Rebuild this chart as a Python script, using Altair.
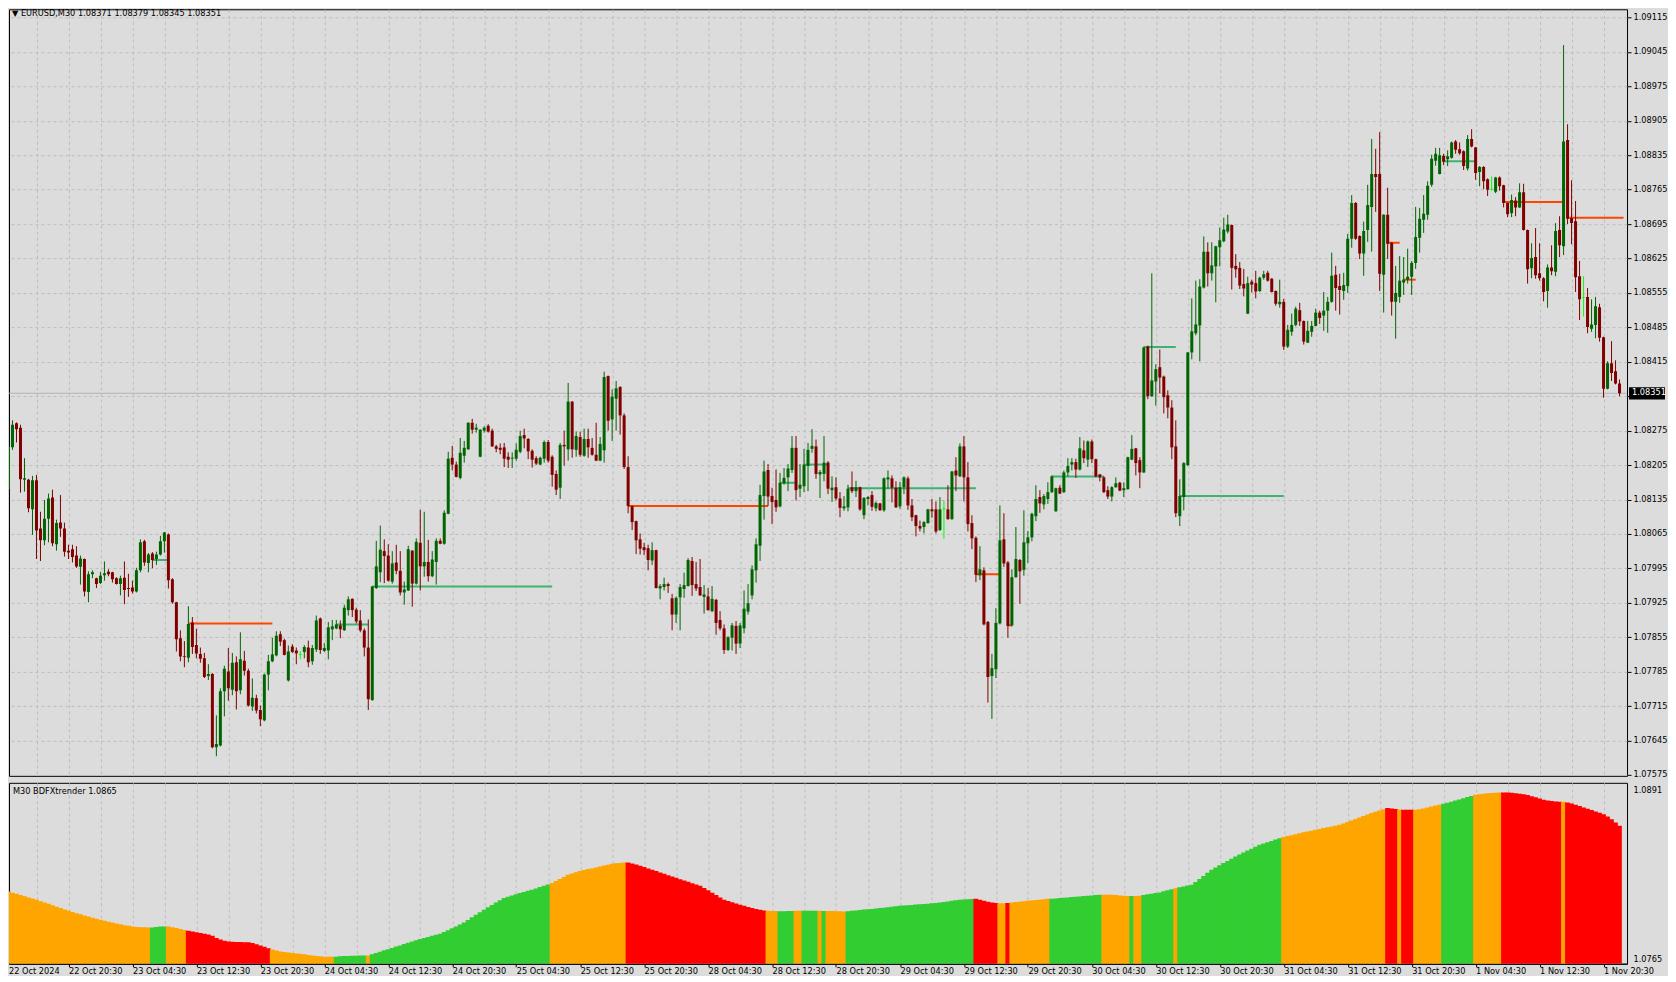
import json
import altair as alt
import pandas as pd

# ---------------- data ----------------
symbol = "EURUSD,M30"
timeframe = "M30"
indicator_name = "BDFXtrender"

opens = [
    1.08271, 1.08156, 1.08241, 1.08290, 1.08281, 1.08175, 1.08175, 1.08115, 1.08174, 1.08076,
    1.08052, 1.08096, 1.08139, 1.08044, 1.08088, 1.08076, 1.08031, 1.08034, 1.08021, 1.07998,
    1.08014, 1.07947, 1.07983, 1.07975, 1.07965, 1.07981, 1.07988, 1.07987, 1.07975, 1.07963,
    1.07976, 1.07954, 1.07956, 1.07948, 1.07991, 1.08050, 1.08006, 1.08025, 1.08014, 1.08023,
    1.08050, 1.08064, 1.07973, 1.07926, 1.07853, 1.07817, 1.07813, 1.07885, 1.07839, 1.07821,
    1.07812, 1.07776, 1.07780, 1.07631, 1.07635, 1.07745, 1.07785, 1.07748, 1.07804, 1.07747,
    1.07807, 1.07787, 1.07714, 1.07731, 1.07707, 1.07686, 1.07779, 1.07806, 1.07818, 1.07861,
    1.07849, 1.07767, 1.07836, 1.07828, 1.07819, 1.07825, 1.07834, 1.07806, 1.07830, 1.07893,
    1.07827, 1.07828, 1.07871, 1.07873, 1.07879, 1.07869, 1.07910, 1.07933, 1.07911, 1.07889,
    1.07869, 1.07834, 1.07727, 1.07955, 1.07987, 1.08030, 1.08021, 1.07968, 1.08007, 1.07990,
    1.07946, 1.07950, 1.08031, 1.07964, 1.08047, 1.07999, 1.08008, 1.07979, 1.08008, 1.08051,
    1.08045, 1.08106, 1.08220, 1.08206, 1.08179, 1.08224, 1.08237, 1.08291, 1.08277, 1.08222,
    1.08275, 1.08285, 1.08275, 1.08243, 1.08240, 1.08241, 1.08222, 1.08218, 1.08218, 1.08232,
    1.08266, 1.08258, 1.08234, 1.08219, 1.08206, 1.08218, 1.08252, 1.08222, 1.08187, 1.08159,
    1.08246, 1.08237, 1.08334, 1.08236, 1.08262, 1.08224, 1.08258, 1.08240, 1.08226, 1.08214,
    1.08235, 1.08386, 1.08298, 1.08340, 1.08364, 1.08306, 1.08201, 1.08121, 1.08091, 1.08054,
    1.08038, 1.08036, 1.08011, 1.08032, 1.07954, 1.07957, 1.07963, 1.07934, 1.07901, 1.07936,
    1.07953, 1.07959, 1.08010, 1.07963, 1.07957, 1.07937, 1.07938, 1.07908, 1.07931, 1.07890,
    1.07873, 1.07829, 1.07854, 1.07878, 1.07842, 1.07873, 1.07907, 1.07940, 1.07991, 1.08041,
    1.08142, 1.08195, 1.08142, 1.08134, 1.08121, 1.08168, 1.08180, 1.08195, 1.08240, 1.08157,
    1.08162, 1.08203, 1.08238, 1.08243, 1.08186, 1.08187, 1.08210, 1.08154, 1.08160, 1.08137,
    1.08117, 1.08119, 1.08160, 1.08152, 1.08160, 1.08103, 1.08136, 1.08144, 1.08117, 1.08127,
    1.08113, 1.08176, 1.08178, 1.08159, 1.08121, 1.08160, 1.08178, 1.08123, 1.08103, 1.08081,
    1.08079, 1.08087, 1.08115, 1.08115, 1.08073, 1.08115, 1.08115, 1.08095, 1.08194, 1.08182,
    1.08243, 1.08180, 1.08087, 1.08057, 1.07981, 1.07991, 1.07886, 1.07776, 1.07790, 1.07883,
    1.08054, 1.08007, 1.07879, 1.07977, 1.08012, 1.07992, 1.08046, 1.08058, 1.08101, 1.08140,
    1.08125, 1.08136, 1.08150, 1.08111, 1.08159, 1.08150, 1.08190, 1.08206, 1.08211, 1.08196,
    1.08235, 1.08216, 1.08253, 1.08217, 1.08186, 1.08180, 1.08154, 1.08141, 1.08160, 1.08169,
    1.08154, 1.08156, 1.08216, 1.08239, 1.08215, 1.08190, 1.08446, 1.08345, 1.08375, 1.08404,
    1.08385, 1.08347, 1.08322, 1.08243, 1.08101, 1.08140, 1.08205, 1.08434, 1.08473, 1.08489,
    1.08566, 1.08639, 1.08595, 1.08609, 1.08648, 1.08660, 1.08680, 1.08693, 1.08610, 1.08606,
    1.08573, 1.08513, 1.08578, 1.08575, 1.08559, 1.08586, 1.08596, 1.08584, 1.08559, 1.08532,
    1.08537, 1.08446, 1.08476, 1.08490, 1.08520, 1.08498, 1.08454, 1.08476, 1.08488, 1.08515,
    1.08509, 1.08519, 1.08537, 1.08592, 1.08569, 1.08559, 1.08569, 1.08665, 1.08738, 1.08671,
    1.08635, 1.08683, 1.08730, 1.08797, 1.08797, 1.08592, 1.08714, 1.08657, 1.08537, 1.08547,
    1.08576, 1.08582, 1.08588, 1.08616, 1.08667, 1.08704, 1.08714, 1.08775, 1.08824, 1.08797,
    1.08834, 1.08827, 1.08830, 1.08863, 1.08847, 1.08843, 1.08808, 1.08868, 1.08851, 1.08801,
    1.08811, 1.08786, 1.08765, 1.08761, 1.08790, 1.08774, 1.08738, 1.08717, 1.08743, 1.08729,
    1.08760, 1.08683, 1.08605, 1.08628, 1.08595, 1.08585, 1.08559, 1.08607, 1.08598, 1.08683,
    1.08650, 1.08866, 1.08707, 1.08701, 1.08589, 1.08545, 1.08547, 1.08482, 1.08490, 1.08526,
    1.08465, 1.08360, 1.08412, 1.08396, 1.08371,
]

highs = [
    1.08280, 1.08273, 1.08296, 1.08292, 1.08287, 1.08219, 1.08177, 1.08183, 1.08185, 1.08110,
    1.08134, 1.08147, 1.08155, 1.08094, 1.08144, 1.08088, 1.08043, 1.08043, 1.08040, 1.08021,
    1.08015, 1.07989, 1.07991, 1.07976, 1.07988, 1.08009, 1.07993, 1.07988, 1.07977, 1.07980,
    1.08009, 1.07984, 1.07970, 1.07996, 1.08054, 1.08053, 1.08026, 1.08028, 1.08029, 1.08061,
    1.08069, 1.08066, 1.07975, 1.07927, 1.07869, 1.07847, 1.07918, 1.07896, 1.07872, 1.07834,
    1.07823, 1.07800, 1.07782, 1.07696, 1.07751, 1.07797, 1.07833, 1.07823, 1.07816, 1.07865,
    1.07827, 1.07791, 1.07771, 1.07738, 1.07716, 1.07781, 1.07819, 1.07854, 1.07867, 1.07867,
    1.07852, 1.07838, 1.07841, 1.07834, 1.07827, 1.07839, 1.07848, 1.07839, 1.07899, 1.07895,
    1.07843, 1.07886, 1.07890, 1.07890, 1.07889, 1.07921, 1.07938, 1.07934, 1.07915, 1.07910,
    1.07873, 1.07891, 1.07959, 1.08051, 1.08082, 1.08054, 1.08044, 1.08030, 1.08043, 1.08030,
    1.07968, 1.08041, 1.08032, 1.08056, 1.08114, 1.08110, 1.08053, 1.08030, 1.08056, 1.08056,
    1.08113, 1.08232, 1.08244, 1.08212, 1.08260, 1.08254, 1.08292, 1.08299, 1.08289, 1.08278,
    1.08284, 1.08288, 1.08279, 1.08246, 1.08249, 1.08250, 1.08231, 1.08231, 1.08249, 1.08275,
    1.08279, 1.08260, 1.08237, 1.08223, 1.08222, 1.08255, 1.08256, 1.08225, 1.08194, 1.08250,
    1.08275, 1.08372, 1.08335, 1.08273, 1.08273, 1.08279, 1.08279, 1.08260, 1.08291, 1.08262,
    1.08395, 1.08387, 1.08359, 1.08376, 1.08365, 1.08310, 1.08223, 1.08123, 1.08092, 1.08066,
    1.08047, 1.08043, 1.08048, 1.08033, 1.07963, 1.07976, 1.07966, 1.07943, 1.07938, 1.07963,
    1.07986, 1.08016, 1.08018, 1.08008, 1.08014, 1.07961, 1.07955, 1.07959, 1.07933, 1.07908,
    1.07881, 1.07857, 1.07884, 1.07888, 1.07884, 1.07950, 1.07963, 1.08001, 1.08056, 1.08165,
    1.08214, 1.08207, 1.08159, 1.08196, 1.08189, 1.08199, 1.08207, 1.08264, 1.08264, 1.08207,
    1.08238, 1.08250, 1.08278, 1.08257, 1.08195, 1.08264, 1.08213, 1.08182, 1.08180, 1.08150,
    1.08142, 1.08165, 1.08192, 1.08173, 1.08161, 1.08140, 1.08142, 1.08152, 1.08131, 1.08128,
    1.08180, 1.08194, 1.08184, 1.08172, 1.08171, 1.08182, 1.08182, 1.08136, 1.08104, 1.08092,
    1.08091, 1.08116, 1.08136, 1.08131, 1.08140, 1.08133, 1.08164, 1.08193, 1.08221, 1.08249,
    1.08264, 1.08211, 1.08103, 1.08060, 1.08040, 1.07997, 1.07888, 1.07821, 1.07914, 1.08123,
    1.08107, 1.08010, 1.07993, 1.08079, 1.08014, 1.08113, 1.08071, 1.08108, 1.08164, 1.08154,
    1.08146, 1.08170, 1.08184, 1.08159, 1.08164, 1.08194, 1.08219, 1.08219, 1.08218, 1.08262,
    1.08255, 1.08255, 1.08257, 1.08218, 1.08187, 1.08182, 1.08162, 1.08162, 1.08180, 1.08171,
    1.08170, 1.08222, 1.08266, 1.08240, 1.08221, 1.08446, 1.08448, 1.08595, 1.08410, 1.08440,
    1.08387, 1.08357, 1.08337, 1.08296, 1.08176, 1.08211, 1.08435, 1.08544, 1.08580, 1.08583,
    1.08670, 1.08658, 1.08658, 1.08651, 1.08688, 1.08708, 1.08714, 1.08694, 1.08634, 1.08618,
    1.08604, 1.08588, 1.08582, 1.08600, 1.08588, 1.08600, 1.08600, 1.08585, 1.08560, 1.08582,
    1.08543, 1.08490, 1.08513, 1.08527, 1.08535, 1.08499, 1.08498, 1.08498, 1.08523, 1.08519,
    1.08557, 1.08547, 1.08637, 1.08610, 1.08594, 1.08596, 1.08675, 1.08754, 1.08740, 1.08672,
    1.08700, 1.08775, 1.08868, 1.08848, 1.08882, 1.08715, 1.08769, 1.08658, 1.08610, 1.08630,
    1.08628, 1.08645, 1.08620, 1.08730, 1.08728, 1.08754, 1.08782, 1.08836, 1.08850, 1.08850,
    1.08838, 1.08845, 1.08863, 1.08866, 1.08861, 1.08845, 1.08876, 1.08888, 1.08852, 1.08813,
    1.08813, 1.08788, 1.08792, 1.08791, 1.08792, 1.08775, 1.08739, 1.08755, 1.08750, 1.08778,
    1.08777, 1.08684, 1.08656, 1.08687, 1.08656, 1.08587, 1.08613, 1.08652, 1.08697, 1.08711,
    1.09059, 1.08898, 1.08784, 1.08742, 1.08620, 1.08589, 1.08565, 1.08542, 1.08547, 1.08533,
    1.08466, 1.08416, 1.08457, 1.08418, 1.08379,
]

lows = [
    1.08145, 1.08145, 1.08236, 1.08251, 1.08149, 1.08151, 1.08109, 1.08063, 1.08014, 1.08010,
    1.08042, 1.08048, 1.08040, 1.08031, 1.08059, 1.08019, 1.08014, 1.08007, 1.07996, 1.07962,
    1.07938, 1.07926, 1.07975, 1.07955, 1.07963, 1.07970, 1.07979, 1.07966, 1.07962, 1.07940,
    1.07922, 1.07937, 1.07944, 1.07946, 1.07987, 1.08000, 1.07987, 1.07995, 1.08002, 1.08021,
    1.08027, 1.07954, 1.07923, 1.07826, 1.07806, 1.07794, 1.07804, 1.07821, 1.07812, 1.07803,
    1.07772, 1.07768, 1.07629, 1.07613, 1.07633, 1.07694, 1.07726, 1.07737, 1.07708, 1.07739,
    1.07777, 1.07714, 1.07705, 1.07700, 1.07674, 1.07684, 1.07747, 1.07804, 1.07816, 1.07837,
    1.07818, 1.07765, 1.07823, 1.07800, 1.07810, 1.07812, 1.07794, 1.07799, 1.07825, 1.07821,
    1.07825, 1.07810, 1.07849, 1.07871, 1.07853, 1.07868, 1.07899, 1.07896, 1.07883, 1.07865,
    1.07816, 1.07707, 1.07726, 1.07953, 1.07967, 1.07965, 1.07968, 1.07964, 1.07983, 1.07940,
    1.07921, 1.07949, 1.07917, 1.07962, 1.07950, 1.07978, 1.07968, 1.07977, 1.07962, 1.08044,
    1.08043, 1.08105, 1.08194, 1.08180, 1.08176, 1.08210, 1.08236, 1.08269, 1.08271, 1.08221,
    1.08271, 1.08271, 1.08242, 1.08231, 1.08227, 1.08201, 1.08199, 1.08199, 1.08214, 1.08229,
    1.08239, 1.08217, 1.08200, 1.08205, 1.08205, 1.08210, 1.08210, 1.08161, 1.08144, 1.08136,
    1.08204, 1.08214, 1.08220, 1.08222, 1.08222, 1.08222, 1.08220, 1.08224, 1.08213, 1.08213,
    1.08210, 1.08275, 1.08254, 1.08275, 1.08267, 1.08197, 1.08107, 1.08073, 1.08024, 1.08023,
    1.08022, 1.07991, 1.08002, 1.07954, 1.07932, 1.07950, 1.07945, 1.07869, 1.07884, 1.07869,
    1.07935, 1.07958, 1.07939, 1.07949, 1.07939, 1.07903, 1.07909, 1.07906, 1.07860, 1.07869,
    1.07821, 1.07827, 1.07828, 1.07821, 1.07833, 1.07863, 1.07901, 1.07932, 1.07966, 1.08010,
    1.08094, 1.08122, 1.08085, 1.08110, 1.08119, 1.08165, 1.08152, 1.08189, 1.08133, 1.08140,
    1.08150, 1.08152, 1.08230, 1.08177, 1.08138, 1.08172, 1.08146, 1.08130, 1.08133, 1.08099,
    1.08112, 1.08111, 1.08148, 1.08140, 1.08112, 1.08095, 1.08123, 1.08112, 1.08111, 1.08112,
    1.08110, 1.08157, 1.08129, 1.08118, 1.08116, 1.08146, 1.08114, 1.08091, 1.08060, 1.08070,
    1.08066, 1.08086, 1.08098, 1.08066, 1.08071, 1.08055, 1.08094, 1.08094, 1.08152, 1.08181,
    1.08131, 1.08070, 1.08034, 1.07967, 1.07971, 1.07879, 1.07722, 1.07689, 1.07772, 1.07881,
    1.07998, 1.07854, 1.07877, 1.07976, 1.07923, 1.07980, 1.08006, 1.08050, 1.08091, 1.08108,
    1.08115, 1.08126, 1.08148, 1.08110, 1.08146, 1.08148, 1.08182, 1.08194, 1.08179, 1.08194,
    1.08209, 1.08201, 1.08209, 1.08180, 1.08172, 1.08148, 1.08136, 1.08131, 1.08159, 1.08152,
    1.08140, 1.08155, 1.08215, 1.08184, 1.08158, 1.08189, 1.08339, 1.08344, 1.08326, 1.08351,
    1.08310, 1.08300, 1.08217, 1.08099, 1.08081, 1.08113, 1.08203, 1.08420, 1.08469, 1.08416,
    1.08564, 1.08568, 1.08580, 1.08536, 1.08609, 1.08658, 1.08676, 1.08562, 1.08586, 1.08563,
    1.08548, 1.08512, 1.08556, 1.08544, 1.08557, 1.08582, 1.08578, 1.08556, 1.08529, 1.08525,
    1.08439, 1.08443, 1.08468, 1.08487, 1.08488, 1.08450, 1.08453, 1.08466, 1.08487, 1.08492,
    1.08478, 1.08474, 1.08535, 1.08519, 1.08511, 1.08541, 1.08555, 1.08647, 1.08663, 1.08624,
    1.08590, 1.08659, 1.08639, 1.08720, 1.08559, 1.08515, 1.08624, 1.08509, 1.08462, 1.08535,
    1.08551, 1.08574, 1.08551, 1.08604, 1.08637, 1.08677, 1.08704, 1.08771, 1.08814, 1.08796,
    1.08815, 1.08813, 1.08828, 1.08838, 1.08836, 1.08805, 1.08804, 1.08851, 1.08785, 1.08772,
    1.08766, 1.08752, 1.08763, 1.08758, 1.08763, 1.08729, 1.08709, 1.08709, 1.08711, 1.08728,
    1.08682, 1.08574, 1.08585, 1.08584, 1.08580, 1.08538, 1.08525, 1.08591, 1.08589, 1.08628,
    1.08632, 1.08695, 1.08654, 1.08557, 1.08500, 1.08507, 1.08473, 1.08476, 1.08463, 1.08456,
    1.08342, 1.08359, 1.08376, 1.08369, 1.08345,
]

closes = [
    1.08158, 1.08243, 1.08287, 1.08278, 1.08176, 1.08178, 1.08117, 1.08174, 1.08072, 1.08052,
    1.08096, 1.08137, 1.08046, 1.08087, 1.08076, 1.08029, 1.08027, 1.08018, 1.07999, 1.08015,
    1.07948, 1.07983, 1.07987, 1.07963, 1.07980, 1.07985, 1.07983, 1.07973, 1.07963, 1.07975,
    1.07951, 1.07953, 1.07948, 1.07991, 1.08048, 1.08007, 1.08023, 1.08012, 1.08023, 1.08050,
    1.08068, 1.07971, 1.07926, 1.07851, 1.07816, 1.07815, 1.07882, 1.07835, 1.07822, 1.07811,
    1.07774, 1.07780, 1.07631, 1.07638, 1.07745, 1.07791, 1.07751, 1.07803, 1.07745, 1.07810,
    1.07787, 1.07716, 1.07732, 1.07706, 1.07688, 1.07779, 1.07806, 1.07820, 1.07858, 1.07846,
    1.07819, 1.07826, 1.07825, 1.07822, 1.07819, 1.07835, 1.07804, 1.07833, 1.07889, 1.07829,
    1.07833, 1.07875, 1.07877, 1.07881, 1.07871, 1.07915, 1.07932, 1.07910, 1.07887, 1.07869,
    1.07834, 1.07729, 1.07958, 1.07999, 1.08033, 1.08020, 1.07970, 1.08005, 1.07990, 1.07946,
    1.07952, 1.08034, 1.07964, 1.08049, 1.07999, 1.08008, 1.07979, 1.08013, 1.08051, 1.08045,
    1.08108, 1.08218, 1.08206, 1.08181, 1.08230, 1.08240, 1.08291, 1.08277, 1.08281, 1.08277,
    1.08281, 1.08273, 1.08243, 1.08238, 1.08236, 1.08218, 1.08216, 1.08220, 1.08236, 1.08264,
    1.08259, 1.08233, 1.08216, 1.08208, 1.08220, 1.08252, 1.08214, 1.08185, 1.08155, 1.08246,
    1.08243, 1.08334, 1.08237, 1.08264, 1.08226, 1.08258, 1.08241, 1.08226, 1.08214, 1.08248,
    1.08384, 1.08295, 1.08344, 1.08361, 1.08306, 1.08201, 1.08122, 1.08089, 1.08052, 1.08035,
    1.08032, 1.08012, 1.08032, 1.07955, 1.07959, 1.07963, 1.07959, 1.07901, 1.07935, 1.07957,
    1.07961, 1.08012, 1.07961, 1.07954, 1.07940, 1.07942, 1.07910, 1.07933, 1.07884, 1.07873,
    1.07829, 1.07855, 1.07879, 1.07842, 1.07879, 1.07913, 1.07924, 1.07993, 1.08044, 1.08144,
    1.08192, 1.08141, 1.08130, 1.08119, 1.08169, 1.08179, 1.08198, 1.08240, 1.08154, 1.08165,
    1.08206, 1.08236, 1.08244, 1.08187, 1.08191, 1.08210, 1.08157, 1.08159, 1.08137, 1.08118,
    1.08121, 1.08157, 1.08152, 1.08160, 1.08115, 1.08138, 1.08140, 1.08120, 1.08128, 1.08113,
    1.08178, 1.08180, 1.08159, 1.08119, 1.08160, 1.08180, 1.08123, 1.08099, 1.08081, 1.08076,
    1.08089, 1.08115, 1.08111, 1.08070, 1.08115, 1.08115, 1.08095, 1.08192, 1.08184, 1.08243,
    1.08180, 1.08085, 1.08056, 1.07982, 1.07993, 1.07881, 1.07774, 1.07792, 1.07884, 1.08052,
    1.08005, 1.07878, 1.07977, 1.08014, 1.07989, 1.08048, 1.08058, 1.08106, 1.08136, 1.08127,
    1.08142, 1.08150, 1.08182, 1.08158, 1.08147, 1.08190, 1.08203, 1.08211, 1.08196, 1.08239,
    1.08219, 1.08253, 1.08217, 1.08182, 1.08180, 1.08150, 1.08141, 1.08160, 1.08168, 1.08153,
    1.08158, 1.08221, 1.08238, 1.08209, 1.08190, 1.08444, 1.08345, 1.08377, 1.08400, 1.08383,
    1.08343, 1.08322, 1.08241, 1.08107, 1.08142, 1.08209, 1.08434, 1.08477, 1.08491, 1.08568,
    1.08639, 1.08595, 1.08611, 1.08650, 1.08662, 1.08684, 1.08694, 1.08606, 1.08603, 1.08570,
    1.08564, 1.08575, 1.08572, 1.08558, 1.08586, 1.08593, 1.08580, 1.08557, 1.08533, 1.08537,
    1.08446, 1.08480, 1.08490, 1.08523, 1.08497, 1.08456, 1.08478, 1.08488, 1.08515, 1.08504,
    1.08519, 1.08537, 1.08590, 1.08565, 1.08561, 1.08571, 1.08665, 1.08738, 1.08665, 1.08635,
    1.08681, 1.08734, 1.08797, 1.08791, 1.08594, 1.08714, 1.08655, 1.08537, 1.08555, 1.08580,
    1.08582, 1.08588, 1.08616, 1.08669, 1.08706, 1.08716, 1.08773, 1.08828, 1.08838, 1.08835,
    1.08822, 1.08833, 1.08861, 1.08846, 1.08839, 1.08813, 1.08868, 1.08853, 1.08799, 1.08811,
    1.08782, 1.08765, 1.08765, 1.08790, 1.08772, 1.08738, 1.08715, 1.08744, 1.08729, 1.08760,
    1.08683, 1.08603, 1.08626, 1.08591, 1.08585, 1.08557, 1.08607, 1.08599, 1.08681, 1.08652,
    1.08863, 1.08706, 1.08697, 1.08587, 1.08542, 1.08545, 1.08486, 1.08491, 1.08528, 1.08464,
    1.08360, 1.08412, 1.08392, 1.08371, 1.08351,
]

trend_values = [
    1.08164, 1.08158, 1.08150, 1.08142, 1.08133, 1.08124, 1.08115, 1.08106, 1.08097, 1.08087,
    1.08077, 1.08067, 1.08057, 1.08046, 1.08036, 1.08025, 1.08015, 1.08006, 1.07997, 1.07989,
    1.07980, 1.07972, 1.07963, 1.07955, 1.07948, 1.07941, 1.07934, 1.07927, 1.07920, 1.07914,
    1.07908, 1.07903, 1.07898, 1.07895, 1.07893, 1.07892, 1.07891, 1.07891, 1.07895, 1.07898,
    1.07898, 1.07898, 1.07893, 1.07886, 1.07879, 1.07872, 1.07866, 1.07860, 1.07854, 1.07849,
    1.07844, 1.07839, 1.07828, 1.07812, 1.07800, 1.07792, 1.07786, 1.07784, 1.07783, 1.07782,
    1.07781, 1.07780, 1.07774, 1.07766, 1.07757, 1.07746, 1.07736, 1.07726, 1.07718, 1.07712,
    1.07707, 1.07703, 1.07700, 1.07697, 1.07694, 1.07690, 1.07686, 1.07682, 1.07678, 1.07675,
    1.07672, 1.07672, 1.07672, 1.07673, 1.07675, 1.07677, 1.07678, 1.07680, 1.07680, 1.07681,
    1.07682, 1.07682, 1.07690, 1.07700, 1.07710, 1.07720, 1.07729, 1.07738, 1.07748, 1.07757,
    1.07767, 1.07776, 1.07786, 1.07795, 1.07804, 1.07812, 1.07820, 1.07828, 1.07836, 1.07844,
    1.07856, 1.07870, 1.07884, 1.07898, 1.07913, 1.07928, 1.07947, 1.07966, 1.07985, 1.08004,
    1.08023, 1.08041, 1.08058, 1.08076, 1.08093, 1.08110, 1.08120, 1.08129, 1.08138, 1.08147,
    1.08155, 1.08164, 1.08172, 1.08182, 1.08192, 1.08202, 1.08212, 1.08222, 1.08237, 1.08253,
    1.08268, 1.08284, 1.08294, 1.08303, 1.08312, 1.08320, 1.08326, 1.08331, 1.08338, 1.08345,
    1.08352, 1.08359, 1.08366, 1.08369, 1.08372, 1.08375, 1.08375, 1.08368, 1.08360, 1.08351,
    1.08341, 1.08331, 1.08321, 1.08311, 1.08301, 1.08291, 1.08281, 1.08271, 1.08261, 1.08251,
    1.08241, 1.08231, 1.08221, 1.08211, 1.08202, 1.08185, 1.08168, 1.08150, 1.08132, 1.08115,
    1.08097, 1.08088, 1.08079, 1.08070, 1.08061, 1.08052, 1.08044, 1.08035, 1.08029, 1.08022,
    1.08017, 1.08015, 1.08014, 1.08013, 1.08012, 1.08012, 1.08013, 1.08014, 1.08015, 1.08015,
    1.08016, 1.08016, 1.08015, 1.08015, 1.08015, 1.08014, 1.08014, 1.08013, 1.08012, 1.08011,
    1.08010, 1.08012, 1.08015, 1.08018, 1.08021, 1.08024, 1.08026, 1.08028, 1.08032, 1.08035,
    1.08038, 1.08042, 1.08045, 1.08048, 1.08052, 1.08055, 1.08057, 1.08059, 1.08062, 1.08064,
    1.08066, 1.08068, 1.08071, 1.08073, 1.08077, 1.08081, 1.08085, 1.08089, 1.08093, 1.08097,
    1.08099, 1.08101, 1.08103, 1.08105, 1.08098, 1.08090, 1.08083, 1.08077, 1.08073, 1.08072,
    1.08072, 1.08073, 1.08076, 1.08080, 1.08083, 1.08086, 1.08089, 1.08092, 1.08095, 1.08098,
    1.08101, 1.08104, 1.08105, 1.08107, 1.08110, 1.08112, 1.08115, 1.08117, 1.08120, 1.08122,
    1.08125, 1.08127, 1.08130, 1.08132, 1.08135, 1.08135, 1.08135, 1.08134, 1.08132, 1.08130,
    1.08128, 1.08126, 1.08125, 1.08125, 1.08127, 1.08132, 1.08138, 1.08143, 1.08148, 1.08152,
    1.08160, 1.08168, 1.08176, 1.08184, 1.08190, 1.08197, 1.08203, 1.08209, 1.08230, 1.08252,
    1.08275, 1.08298, 1.08321, 1.08338, 1.08354, 1.08371, 1.08387, 1.08404, 1.08420, 1.08435,
    1.08449, 1.08464, 1.08478, 1.08493, 1.08507, 1.08517, 1.08527, 1.08536, 1.08546, 1.08556,
    1.08565, 1.08572, 1.08579, 1.08586, 1.08593, 1.08600, 1.08607, 1.08613, 1.08619, 1.08625,
    1.08632, 1.08638, 1.08644, 1.08650, 1.08656, 1.08667, 1.08678, 1.08689, 1.08700, 1.08711,
    1.08722, 1.08733, 1.08744, 1.08753, 1.08763, 1.08772, 1.08781, 1.08778, 1.08774, 1.08771,
    1.08768, 1.08768, 1.08768, 1.08768, 1.08773, 1.08779, 1.08786, 1.08793, 1.08800, 1.08806,
    1.08813, 1.08821, 1.08829, 1.08838, 1.08846, 1.08855, 1.08864, 1.08872, 1.08880, 1.08884,
    1.08888, 1.08891, 1.08894, 1.08896, 1.08897, 1.08897, 1.08897, 1.08895, 1.08892, 1.08889,
    1.08885, 1.08878, 1.08870, 1.08862, 1.08853, 1.08843, 1.08838, 1.08834, 1.08831, 1.08829,
    1.08828, 1.08822, 1.08815, 1.08806, 1.08796, 1.08786, 1.08776, 1.08766, 1.08756, 1.08746,
    1.08735, 1.08718, 1.08697, 1.08673, 1.08650,
]

# colour state of the indicator histogram: each run starts at a bar index
trend_run_starts = [0, 37, 41, 46, 67, 83, 91, 92, 137, 156, 191, 194, 198, 200, 204, 205,
                    206, 211, 243, 249, 251, 252, 262, 275, 282, 283, 285, 293, 294, 320,
                    346, 349, 350, 353, 360, 368, 375, 390, 391]
trend_run_states = ["flat", "up", "flat", "down", "flat", "up", "flat", "up", "flat", "down",
                    "flat", "up", "flat", "up", "flat", "up", "flat", "up", "down", "flat",
                    "down", "flat", "up", "flat", "up", "flat", "up", "flat", "up", "flat",
                    "down", "flat", "down", "flat", "up", "flat", "down", "flat", "down"]

# support / resistance segments drawn on the price panel
level_start = [37, 46, 83, 92, 156, 194, 200, 211, 243, 251, 262, 285, 294, 346, 350, 360, 375, 391]
level_end = [41, 67, 91, 137, 191, 198, 206, 243, 249, 252, 275, 293, 320, 349, 353, 368, 390, 405]
level_price = [1.08012, 1.07883, 1.07881, 1.07958, 1.08122, 1.08169, 1.08206, 1.08158, 1.07983,
               1.07879, 1.08182, 1.08445, 1.08142, 1.08657, 1.08582, 1.08823, 1.08740, 1.08708]
level_state = ["up", "down", "up", "up", "down", "up", "up", "up", "down",
               "down", "up", "up", "up", "down", "down", "up", "down", "down"]

price_ticks = [1.07575, 1.07645, 1.07715, 1.07785, 1.07855, 1.07925, 1.07995, 1.08065,
               1.08135, 1.08205, 1.08275, 1.08345, 1.08415, 1.08485, 1.08555, 1.08625,
               1.08695, 1.08765, 1.08835, 1.08905, 1.08975, 1.09045, 1.09115]
trend_axis_labels = [1.0765, 1.0891]
time_labels = ["22 Oct 2024", "22 Oct 20:30", "23 Oct 04:30", "23 Oct 12:30", "23 Oct 20:30",
               "24 Oct 04:30", "24 Oct 12:30", "24 Oct 20:30", "25 Oct 04:30", "25 Oct 12:30",
               "25 Oct 20:30", "28 Oct 04:30", "28 Oct 12:30", "28 Oct 20:30", "29 Oct 04:30",
               "29 Oct 12:30", "29 Oct 20:30", "30 Oct 04:30", "30 Oct 12:30", "30 Oct 20:30",
               "31 Oct 04:30", "31 Oct 12:30", "31 Oct 20:30", "1 Nov 04:30", "1 Nov 12:30",
               "1 Nov 20:30"]
bars_per_label = 16

n = len(opens)
assert len(highs) == n and len(lows) == n and len(closes) == n and len(trend_values) == n, \
    (len(opens), len(highs), len(lows), len(closes), len(trend_values))

# ---------------- layout / style ----------------
W = 1619
H_TOP = 767
H_BOT = 181
X_DOMAIN = [1.125, 1.125 + W / 4.0]
Y_TOP = [1.075731, 1.091318]
Y_BOT = [1.076202, 1.089696]
BG = "#DCDCDC"
GRID = "#BDBDBD"
FONT = "DejaVu Sans"
FS = 8.2

candle_colors = {"up": "#006400", "down": "#800000", "doji": "#00FF00"}
trend_colors = {"flat": "#FFA500", "up": "#32CD32", "down": "#FF0000"}
level_colors = {"up": "#3CB371", "down": "#FF4500"}

# ---------------- tables ----------------
idx = list(range(n))
cdf = pd.DataFrame({"i": idx, "open": opens, "high": highs, "low": lows, "close": closes})
cdf["dir"] = ["up" if c > o else ("down" if c < o else "doji") for o, c in zip(opens, closes)]
cdf["ccol"] = cdf["dir"].map(candle_colors)
cdf["body_lo"] = cdf[["open", "close"]].min(axis=1)
cdf["body_hi"] = cdf[["open", "close"]].max(axis=1)
cdf["body_hi"] = cdf[["body_hi"]].assign(m=cdf["body_lo"] + 0.00002).max(axis=1)
cdf["bx0"] = cdf["i"] - 0.375
cdf["bx1"] = cdf["i"] + 0.375

states = []
for k, s in enumerate(trend_run_starts):
    e = trend_run_starts[k + 1] if k + 1 < len(trend_run_starts) else n
    states += [trend_run_states[k]] * (e - s)
tdf = pd.DataFrame({"i": idx, "value": trend_values, "state": states})
tdf["tcol"] = tdf["state"].map(trend_colors)
tdf["hx0"] = tdf["i"] - 0.625
# small overlap with the next column so no seams appear between adjacent columns
tdf["hx1"] = tdf["i"] + 0.375 + 0.2
tdf["base"] = Y_BOT[0]

ldf = pd.DataFrame({"start": level_start, "end": level_end, "level": level_price, "state": level_state})
ldf["lcol"] = ldf["state"].map(level_colors)

last_close = closes[-1]
last_df = pd.DataFrame({"price": [last_close], "hi": [last_close + 0.000125], "lo": [last_close - 0.000125]})
header = f"\u25BC {symbol}  {opens[-1]:.5f} {highs[-1]:.5f} {lows[-1]:.5f} {closes[-1]:.5f}"
hdr_df = pd.DataFrame({"label": [header]})
sub_df = pd.DataFrame({"label": [f"{timeframe}  {indicator_name} {trend_values[-1]:.4f}"]})
first_df = pd.DataFrame({"label": [time_labels[0]]})

grid_idx = list(range(8, n, 8))

xs_top = alt.Scale(domain=X_DOMAIN, nice=False, zero=False)
ys_top = alt.Scale(domain=Y_TOP, nice=False, zero=False)
xs_bot = alt.Scale(domain=X_DOMAIN, nice=False, zero=False)
ys_bot = alt.Scale(domain=Y_BOT, nice=False, zero=False)

x_axis_top = alt.Axis(values=grid_idx, grid=True, gridColor=GRID, gridDash=[3, 3], labels=False,
                      ticks=False, domain=False, title=None)
y_axis_top = alt.Axis(orient="right", values=price_ticks, grid=True, gridColor=GRID, gridDash=[3, 3],
                      labelExpr=f"abs(datum.value - {last_close}) < 0.0001 ? '' : format(datum.value, '.5f')",
                      tickSize=4, tickColor="black", labelPadding=2, domain=False, title=None,
                      labelFont=FONT, labelFontSize=FS, labelColor="black", labelOverlap=False)

label_expr = (f"datum.value % {bars_per_label} === 0 ? {json.dumps(time_labels)}"
              f"[datum.value / {bars_per_label}] : ''")
x_axis_bot = alt.Axis(values=grid_idx, grid=True, gridColor=GRID, gridDash=[3, 3], labelExpr=label_expr,
                      labelAlign="left", labelBaseline="top", labelPadding=1, tickSize=3, tickColor="black",
                      tickOpacity={"condition": {"test": f"datum.value % {bars_per_label} === 0", "value": 1},
                                   "value": 0},
                      domain=True, domainColor="black", labelFlush=False, labelOverlap=False, labelBound=False,
                      labelFont=FONT, labelFontSize=FS, labelColor="black", title=None)
y_axis_bot = alt.Axis(orient="right", values=trend_axis_labels, format=".4f", grid=False, ticks=False,
                      domain=False, labelPadding=6, labelFont=FONT, labelFontSize=FS, labelColor="black",
                      title=None, labelOverlap=False)

# ---------------- price panel ----------------
base_c = alt.Chart(cdf)
levels = alt.Chart(ldf).mark_rule(strokeWidth=2, clip=True).encode(
    x=alt.X("start:Q", scale=xs_top, axis=x_axis_top),
    x2="end:Q",
    y=alt.Y("level:Q", scale=ys_top, axis=y_axis_top),
    color=alt.Color("lcol:N", scale=None),
)
price_line = alt.Chart(last_df).mark_rule(color="#B4B4B4", strokeWidth=1).encode(
    y=alt.Y("price:Q", scale=ys_top, axis=y_axis_top)
)
wicks = base_c.mark_rule(strokeWidth=1, clip=True).encode(
    x=alt.X("i:Q", scale=xs_top, axis=x_axis_top),
    y=alt.Y("low:Q", scale=ys_top, axis=y_axis_top),
    y2="high:Q",
    color=alt.Color("ccol:N", scale=None),
)
bodies = base_c.mark_rect(clip=True).encode(
    x=alt.X("bx0:Q", scale=xs_top, axis=x_axis_top),
    x2="bx1:Q",
    y=alt.Y("body_lo:Q", scale=ys_top, axis=y_axis_top),
    y2="body_hi:Q",
    color=alt.Color("ccol:N", scale=None),
)
price_box = alt.Chart(last_df).mark_rect(color="black").encode(
    x=alt.value(W + 2), x2=alt.value(W + 38),
    y=alt.Y("hi:Q", scale=ys_top, axis=y_axis_top), y2="lo:Q",
)
price_text = alt.Chart(last_df).mark_text(align="left", baseline="middle", color="white",
                                          font=FONT, fontSize=FS).encode(
    x=alt.value(W + 5),
    y=alt.Y("price:Q", scale=ys_top, axis=y_axis_top),
    text=alt.Text("price:Q", format=".5f"),
)
header_text = alt.Chart(hdr_df).mark_text(align="left", baseline="top", color="black",
                                          font=FONT, fontSize=FS).encode(
    x=alt.value(3), y=alt.value(1), text="label:N"
)

top = alt.layer(levels, price_line, wicks, bodies, price_box, price_text, header_text).properties(
    width=W, height=H_TOP
)

# ---------------- indicator panel ----------------
hist = alt.Chart(tdf).mark_rect(clip=True).encode(
    x=alt.X("hx0:Q", scale=xs_bot, axis=x_axis_bot),
    x2="hx1:Q",
    y=alt.Y("value:Q", scale=ys_bot, axis=y_axis_bot),
    y2="base:Q",
    color=alt.Color("tcol:N", scale=None),
)
sub_text = alt.Chart(sub_df).mark_text(align="left", baseline="middle", color="black",
                                       font=FONT, fontSize=FS).encode(
    x=alt.value(4), y=alt.value(9), text="label:N"
)
first_label = alt.Chart(first_df).mark_text(align="left", baseline="top", color="black",
                                            font=FONT, fontSize=FS).encode(
    x=alt.value(0), y=alt.value(H_BOT + 4), text="label:N"
)
bottom = alt.layer(hist, sub_text, first_label).properties(width=W, height=H_BOT)

chart = alt.vconcat(top, bottom, spacing=3).properties(
    padding={"left": 0, "top": 0, "right": 0, "bottom": 0},
    background=BG,
).configure_view(stroke="black", strokeWidth=1)

chart.save("out.html", embed_options={"renderer": "svg", "actions": False})
